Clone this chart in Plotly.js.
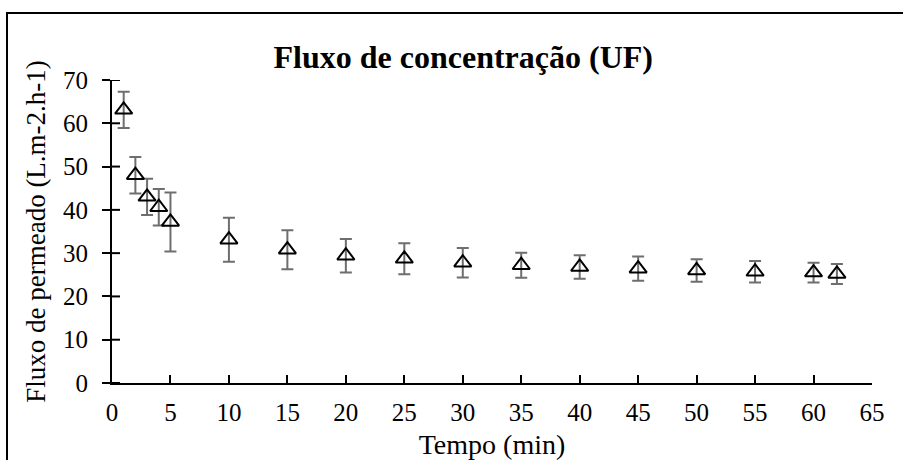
<!DOCTYPE html>
<html>
<head>
<meta charset="utf-8">
<script src="https://cdn.plot.ly/plotly-3.0.1.min.js"></script>
<style>
  html, body { margin: 0; padding: 0; background: #fff; overflow: hidden; }
  #chart { position: absolute; left: 0; top: 0; width: 903px; height: 460px; }
  #frame { position: absolute; left: 6px; top: 12px; width: 1000px; height: 600px;
           border-left: 2px solid #000; border-top: 2px solid #000; pointer-events: none; }
</style>
</head>
<body>
<div id="chart"></div>
<div id="frame"></div>
<script>
const tempo = [1, 2, 3, 4, 5, 10, 15, 20, 25, 30, 35, 40, 45, 50, 55, 60, 62];
const fluxo = [63.1, 48.0, 43.0, 40.6, 37.2, 33.1, 30.8, 29.4, 28.7, 27.8, 27.2, 26.8, 26.4, 26.0, 25.7, 25.5, 25.2];
const desvio = [4.2, 4.2, 4.2, 4.2, 6.8, 5.1, 4.5, 3.85, 3.6, 3.4, 2.9, 2.7, 2.8, 2.6, 2.5, 2.3, 2.3];
const yTicks = [0, 10, 20, 30, 40, 50, 60, 70];
const xTicks = [0, 5, 10, 15, 20, 25, 30, 35, 40, 45, 50, 55, 60, 65];

const titulo = 'Fluxo de concentração (UF)';
const tituloX = 'Tempo (min)';
const tituloY = 'Fluxo de permeado (L.m-2.h-1)';

const serif = '"Liberation Serif", serif';
const plotW = 903 - 112 - 31;

const traces = [
  {
    x: tempo, y: fluxo, type: 'scatter', mode: 'markers',
    marker: { symbol: 'triangle-up-open', size: 15, color: '#000', line: { color: '#000', width: 2 } },
    error_y: { type: 'data', array: desvio, visible: true, color: '#6e6e6e', thickness: 2, width: 6 },
    showlegend: false, hoverinfo: 'skip'
  }
];

// inner half of the cross-style y ticks
const innerTicks = yTicks.map(v => ({
  type: 'line', xref: 'paper', yref: 'y', x0: 0, x1: 8 / plotW, y0: v, y1: v,
  line: { color: '#000', width: 2 }
}));

const layout = {
  width: 903, height: 460,
  margin: { l: 112, r: 31, t: 80, b: 77 },
  paper_bgcolor: '#fff', plot_bgcolor: '#fff',
  font: { family: serif, color: '#000', size: 25 },
  title: { text: '<b>' + titulo + '</b>', font: { family: serif, size: 32, color: '#000' },
           xref: 'container', yref: 'container', x: 0.513, y: 1 - 57 / 460, xanchor: 'center', yanchor: 'middle' },
  xaxis: {
    range: [0, 65], tickmode: 'array', tickvals: xTicks, showgrid: false, zeroline: false,
    showline: true, linecolor: '#000', linewidth: 2,
    ticks: 'inside', ticklen: 8, tickwidth: 2, tickcolor: '#000',
    tickfont: { family: serif, size: 25, color: '#000' }, ticklabelstandoff: 6,
    title: { text: tituloX, font: { family: serif, size: 28, color: '#000' }, standoff: 12 },
    fixedrange: true
  },
  yaxis: {
    range: [0, 70], tickmode: 'array', tickvals: yTicks, showgrid: false, zeroline: false,
    showline: true, linecolor: '#000', linewidth: 2,
    ticks: 'outside', ticklen: 8, tickwidth: 2, tickcolor: '#000',
    tickfont: { family: serif, size: 25, color: '#000' }, ticklabelstandoff: 9,
    title: { text: tituloY, font: { family: serif, size: 27, color: '#000' }, standoff: 10 },
    fixedrange: true
  },
  shapes: innerTicks
};

Plotly.newPlot('chart', traces, layout, { displayModeBar: false, staticPlot: true });
</script>
</body>
</html>
